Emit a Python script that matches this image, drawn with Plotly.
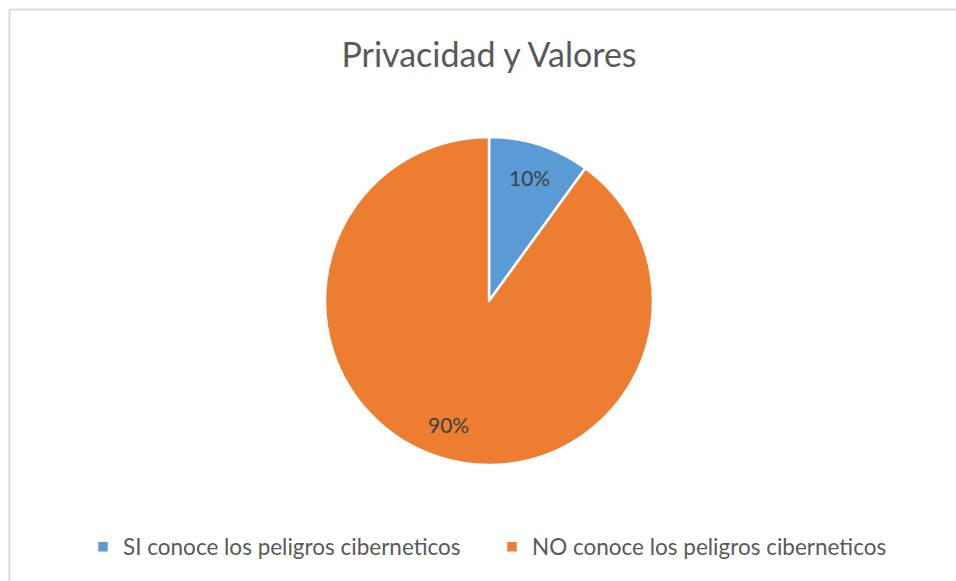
import numpy as np
import plotly.graph_objects as go

labels = ["SI conoce los peligros ciberneticos", "NO conoce los peligros ciberneticos"]
values = [10, 90]
colors = ["#5B9BD5", "#ED7D31"]

# figure spills past the right/bottom of the window like the cropped original
W, H = 980, 600
cx, cy, R = 489, 301, 164

fig = go.Figure()
fig.add_trace(go.Pie(
    labels=labels, values=values, sort=False, direction="clockwise", rotation=0,
    marker=dict(colors=colors, line=dict(color="white", width=2.5)),
    textinfo="none", hoverinfo="label+percent",
    domain=dict(x=[(cx - R) / W, (cx + R) / W], y=[1 - (cy + R) / H, 1 - (cy - R) / H]),
))

# percentage labels placed along each slice's mid angle
total = sum(values)
start = 0.0
annotations = []
for v in values:
    mid = np.radians((start + v / 2) / total * 360)
    r = 0.79 * R
    x = cx + np.sin(mid) * r
    y = cy - np.cos(mid) * r
    annotations.append(dict(x=x / W, y=1 - y / H, xref="paper", yref="paper",
                            xanchor="center", yanchor="middle",
                            text=f"{v / total:.0%}", showarrow=False,
                            font=dict(size=21, color="#404040")))
    start += v

fig.update_layout(
    width=W, height=H,
    margin=dict(l=0, r=0, t=0, b=0),
    paper_bgcolor="white",
    font=dict(family="Lato, 'Open Sans', sans-serif", color="#595959"),
    title=dict(text="Privacidad y Valores", x=489 / W, xanchor="center",
               y=1 - 55 / H, yanchor="middle",
               font=dict(size=34, color="#595959")),
    legend=dict(orientation="h", x=83 / W, xanchor="left", y=1 - 547 / H, yanchor="middle",
                font=dict(size=22.5, color="#595959"), itemwidth=30, entrywidth=404 - 40,
                traceorder="normal"),
    annotations=annotations,
    shapes=[
        dict(type="line", xref="paper", yref="paper", x0=9.5 / W, x1=1, y0=1 - 9.5 / H, y1=1 - 9.5 / H,
             line=dict(color="#D9D9D9", width=2)),
        dict(type="line", xref="paper", yref="paper", x0=9.5 / W, x1=9.5 / W, y0=0, y1=1 - 9.5 / H,
             line=dict(color="#D9D9D9", width=2)),
    ],
)

fig.write_html("out.html", config={"displayModeBar": False},
               post_script="document.body.style.margin='0';document.body.style.overflow='hidden';")
